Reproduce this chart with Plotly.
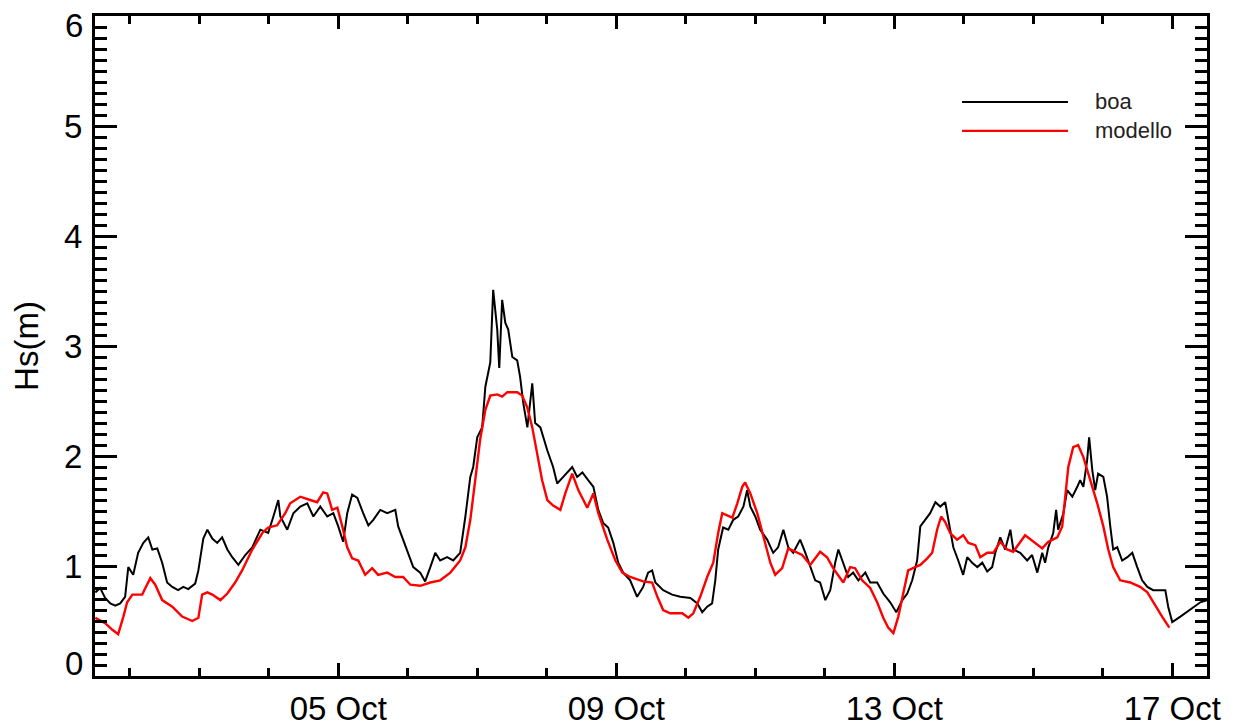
import pandas as pd
import plotly.graph_objects as go

# ---- data (hours since 2010-10-01 00:00, significant wave height in m) ----
boa_hours = [12.1, 13.8, 15.5, 17.3, 19.0, 20.7, 22.4, 23.5, 25.2, 26.9, 28.7, 30.4, 31.8, 33.5, 35.2,
             36.9, 38.7, 40.7, 42.5, 44.2, 46.6, 47.7, 49.4, 50.8, 52.5, 54.2, 55.9, 57.7, 59.4, 61.5,
             63.9, 66.3, 69.1, 71.8, 73.6, 75.3, 76.0, 78.4, 80.5, 82.9, 85.3, 87.4, 89.8, 92.2, 94.3,
             96.0, 97.7, 99.1, 100.8, 102.6, 104.6, 106.4, 108.1, 110.5, 112.9, 115.7, 116.7, 118.4,
             120.2, 121.9, 124.3, 126.0, 127.8, 129.5, 131.2, 133.6, 135.7, 138.1, 139.9, 141.6, 142.6,
             144.0, 145.7, 146.8, 148.5, 149.5, 150.9, 151.6, 152.6, 153.7, 154.7, 156.1, 157.8, 158.8,
             159.9, 161.3, 163.0, 164.0, 165.8, 168.2, 170.2, 171.6, 173.7, 176.8, 178.5, 180.3, 182.3,
             184.1, 185.8, 187.5, 189.2, 191.0, 192.7, 194.4, 196.8, 199.2, 201.3, 203.0, 204.4, 205.5,
             208.2, 211.3, 214.1, 217.6, 220.0, 221.7, 223.4, 225.1, 226.2, 227.2, 228.9, 230.7, 232.4,
             234.1, 235.9, 237.2, 238.3, 240.0, 241.7, 244.1, 246.2, 247.9, 249.7, 251.4, 253.1, 255.5,
             257.3, 259.0, 260.7, 262.4, 264.2, 265.9, 267.6, 268.7, 270.4, 272.1, 273.8, 275.6, 278.0,
             279.7, 282.1, 284.2, 286.6, 288.7, 290.8, 292.5, 294.2, 295.9, 297.0, 298.7, 300.4, 302.2,
             303.9, 305.6, 306.6, 308.4, 310.1, 311.8, 313.2, 314.9, 316.7, 318.4, 320.1, 321.8, 322.9,
             324.6, 326.3, 328.1, 329.1, 331.5, 333.9, 335.6, 337.4, 339.1, 340.1, 341.2, 342.9, 343.9,
             344.6, 346.4, 347.7, 349.5, 351.2, 352.2, 353.3, 354.6, 355.3, 356.4, 357.4, 358.4, 360.2,
             361.5, 362.6, 363.6, 365.0, 366.7, 368.5, 370.2, 371.9, 373.6, 375.4, 377.4, 379.9, 381.6,
             382.6, 384.0, 386.8, 390.2, 393.7, 396.1]
boa_hs = [0.76, 0.80, 0.71, 0.66, 0.64, 0.66, 0.72, 0.99, 0.92, 1.12, 1.21, 1.26, 1.15, 1.16, 1.03,
          0.85, 0.81, 0.78, 0.81, 0.79, 0.84, 0.96, 1.25, 1.33, 1.25, 1.21, 1.26, 1.15, 1.08, 1.01,
          1.10, 1.17, 1.33, 1.30, 1.45, 1.60, 1.45, 1.33, 1.48, 1.54, 1.57, 1.45, 1.54, 1.45, 1.48,
          1.36, 1.22, 1.48, 1.65, 1.62, 1.48, 1.37, 1.42, 1.51, 1.48, 1.51, 1.36, 1.24,
          1.12, 0.99, 0.94, 0.86, 0.99, 1.12, 1.05, 1.08, 1.05, 1.12, 1.45, 1.81, 1.90,
          2.17, 2.26, 2.63, 2.85, 3.51, 3.15, 2.80, 3.42, 3.21, 3.15, 2.90, 2.87, 2.72,
          2.48, 2.26, 2.66, 2.30, 2.26, 2.05, 1.90, 1.75, 1.81, 1.90, 1.81, 1.85, 1.78,
          1.72, 1.51, 1.39, 1.35, 1.21, 1.03, 0.94, 0.87, 0.72, 0.81, 0.94, 0.96, 0.85,
          0.78, 0.74, 0.72, 0.71, 0.66, 0.58, 0.63, 0.66, 0.87, 1.15, 1.35, 1.33, 1.42,
          1.45, 1.54, 1.69, 1.54, 1.45, 1.33, 1.24, 1.12, 1.17, 1.33, 1.17, 1.12, 1.24,
          1.12, 0.99, 0.87, 0.85, 0.69, 0.78, 1.03, 1.15, 1.03, 0.90, 0.94, 0.87, 0.94,
          0.85, 0.85, 0.75, 0.67, 0.58, 0.69, 0.75, 0.87, 1.05, 1.36, 1.42, 1.48, 1.58,
          1.54, 1.58, 1.42, 1.17, 1.05, 0.92, 1.08, 1.03, 0.99, 1.03, 0.95, 0.99, 1.12,
          1.26, 1.15, 1.33, 1.15, 1.12, 1.05, 1.10, 0.94, 1.12, 1.03, 1.17, 1.30, 1.51,
          1.33, 1.48, 1.69, 1.63, 1.72, 1.78, 1.72, 1.96, 2.17, 1.87, 1.69, 1.84, 1.81,
          1.63, 1.36, 1.15, 1.17, 1.05, 1.08, 1.12, 0.99, 0.87, 0.81, 0.78, 0.78, 0.78,
          0.63, 0.49, 0.54, 0.60, 0.67, 0.69]

mod_hours = [12.1, 15.5, 18.0, 20.0, 21.8, 23.1, 24.9, 28.3, 29.4, 31.1, 32.8, 35.2, 38.7, 42.1, 45.6,
             47.7, 49.0, 50.8, 52.5, 55.3, 57.7, 60.4, 62.8, 66.3, 69.8, 71.8, 74.9, 77.7, 79.4, 82.9,
             86.3, 88.7, 90.8, 92.2, 93.9, 95.7, 97.4, 99.1, 100.8, 102.9, 105.3, 107.7, 109.8, 112.9,
             115.7, 118.4, 120.9, 124.3, 127.8, 131.2, 134.7, 138.1, 139.9, 141.6, 143.3, 145.0, 146.8,
             148.5, 150.9, 152.6, 154.4, 157.8, 159.5, 161.3, 163.0, 164.7, 166.4, 168.2, 170.2, 172.7,
             174.4, 176.8, 178.9, 182.0, 184.1, 185.8, 188.9, 191.7, 194.1, 196.8, 201.3, 204.4, 206.2,
             208.2, 210.6, 214.8, 216.9, 218.6, 221.0, 223.4, 225.5, 227.2, 228.6, 230.3, 232.1, 233.8,
             235.5, 236.5, 238.3, 240.7, 242.8, 245.2, 246.9, 249.3, 251.4, 253.8, 256.2, 259.0, 260.7,
             262.4, 264.8, 266.9, 270.4, 272.8, 274.5, 276.9, 279.7, 282.1, 284.2, 285.9, 287.7, 289.4,
             291.1, 292.8, 295.2, 297.0, 299.4, 301.1, 302.8, 304.2, 305.6, 307.3, 309.7, 311.8, 313.6,
             316.0, 317.7, 320.1, 322.2, 324.6, 327.0, 329.1, 333.2, 336.0, 339.1, 341.2, 344.3, 346.0,
             347.0, 348.1, 349.8, 351.5, 353.3, 355.7, 358.1, 360.2, 361.9, 363.6, 366.0, 369.5, 372.9,
             375.4, 377.4, 380.5, 383.0]
mod_hs = [0.53, 0.48, 0.42, 0.38, 0.54, 0.67, 0.74, 0.74, 0.80, 0.89, 0.83, 0.69, 0.63, 0.54, 0.50,
          0.53, 0.74, 0.76, 0.74, 0.69, 0.75, 0.85, 0.96, 1.15, 1.30, 1.35, 1.37, 1.48, 1.57, 1.63,
          1.60, 1.58, 1.67, 1.66, 1.51, 1.53, 1.36, 1.17, 1.07, 1.05, 0.92, 0.98, 0.92, 0.94,
          0.90, 0.90, 0.83, 0.82, 0.85, 0.87, 0.94, 1.05, 1.17, 1.42, 1.78, 2.15, 2.42,
          2.55, 2.56, 2.54, 2.58, 2.58, 2.55, 2.44, 2.26, 2.03, 1.78, 1.60, 1.55, 1.51,
          1.66, 1.84, 1.69, 1.53, 1.66, 1.48, 1.24, 1.05, 0.94, 0.90, 0.86, 0.85, 0.72,
          0.60, 0.57, 0.57, 0.53, 0.57, 0.72, 0.90, 1.03, 1.30, 1.48, 1.46, 1.44, 1.57,
          1.72, 1.76, 1.66, 1.48, 1.26, 1.03, 0.92, 0.98, 1.16, 1.13, 1.10, 1.01, 1.07,
          1.13, 1.08, 0.98, 0.85, 0.99, 0.98, 0.87, 0.80, 0.67, 0.53, 0.44, 0.39, 0.54,
          0.75, 0.96, 0.99, 1.01, 1.07, 1.12, 1.33, 1.45, 1.40, 1.30, 1.24, 1.28, 1.21,
          1.19, 1.08, 1.12, 1.12, 1.22, 1.15, 1.13, 1.28, 1.22, 1.16, 1.22, 1.26, 1.36,
          1.63, 1.90, 2.08, 2.10, 1.99, 1.78, 1.57, 1.36, 1.15, 0.99, 0.87, 0.85, 0.81,
          0.76, 0.67, 0.54, 0.44]

series_names = ["boa", "modello"]
series_colors = ["#000000", "#ff0000"]
x_tick_start = "2010-10-05"
view_hours = [12, 396]
y_ticks = [0, 1, 2, 3, 4, 5, 6]
base = pd.Timestamp("2010-10-01")

FONT = "Liberation Sans, Arial, Helvetica, sans-serif"
DAY_MS = 86400000

fig = go.Figure()
fig.add_trace(go.Scatter(
    x=base + pd.to_timedelta(boa_hours, unit="h"), y=boa_hs, mode="lines",
    name=series_names[0], line=dict(color=series_colors[0], width=2)))
fig.add_trace(go.Scatter(
    x=base + pd.to_timedelta(mod_hours, unit="h"), y=mod_hs, mode="lines",
    name=series_names[1], line=dict(color=series_colors[1], width=2.4)))

# manual legend (long line samples like the reference)
leg_y = [0.8697, 0.8258]
for i in range(2):
    fig.add_shape(type="line", xref="paper", yref="paper", x0=0.7797, x1=0.875,
                  y0=leg_y[i], y1=leg_y[i], line=dict(color=series_colors[i], width=2.2))
    fig.add_annotation(xref="paper", yref="paper", x=0.8975, y=leg_y[i], text=series_names[i],
                       showarrow=False, xanchor="left", yanchor="middle",
                       font=dict(family=FONT, size=22, color="#222222"))

# end labels of the y axis are nudged inward (as in the reference)
y_end_labels = {y_ticks[0]: 0.11, y_ticks[-1]: 5.91}
tick_text = [str(v) if v not in y_end_labels else "" for v in y_ticks]
for v, ypos in y_end_labels.items():
    fig.add_annotation(xref="paper", yref="y", x=0, y=ypos, text=str(v), showarrow=False,
                       xanchor="right", yanchor="middle", xshift=-10,
                       font=dict(family=FONT, size=33, color="black"))

axis_common = dict(
    showline=True, linecolor="black", linewidth=3, mirror="allticks",
    ticks="inside", tickcolor="black", tickwidth=2.5, showgrid=False, zeroline=False,
    automargin=False,
    tickfont=dict(family=FONT, size=33, color="black"),
)

# the page body adds an 8px offset, so the figure is sized/margined to compensate
fig.update_layout(
    width=1227, height=719,
    margin=dict(l=87, r=28, t=8, b=51),
    paper_bgcolor="white", plot_bgcolor="white",
    showlegend=False,
    xaxis=dict(
        type="date",
        range=[base + pd.Timedelta(hours=view_hours[0]), base + pd.Timedelta(hours=view_hours[1])],
        tick0=x_tick_start, dtick=4 * DAY_MS, tickformat="%d %b", ticklen=13,
        ticklabelstandoff=1,
        minor=dict(dtick=DAY_MS, tick0=x_tick_start, ticks="inside", ticklen=8,
                   tickwidth=2.5, tickcolor="black", showgrid=False),
        **axis_common),
    yaxis=dict(
        range=[0, 6], tickmode="array", tickvals=y_ticks, ticktext=tick_text,
        ticklen=22, ticklabelstandoff=3,
        minor=dict(dtick=0.1, tick0=0, ticks="inside", ticklen=12, tickwidth=2.5,
                   tickcolor="black", showgrid=False),
        title=dict(text="Hs(m)", font=dict(family=FONT, size=33, color="black"), standoff=23),
        **axis_common),
)

fig.write_html("out.html")
